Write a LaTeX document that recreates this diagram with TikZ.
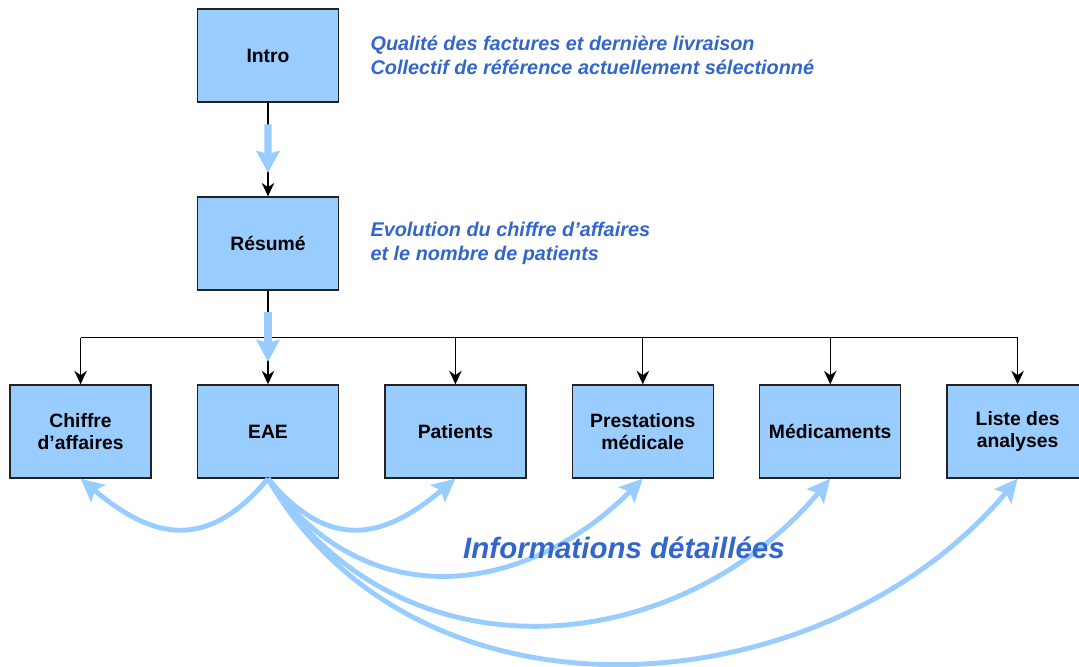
\documentclass[tikz,border=0pt]{standalone}
\usepackage{fontspec}
\setmainfont{Liberation Sans}
\usepackage{tikz}
\usetikzlibrary{arrows.meta,positioning,calc}
\definecolor{boxblue}{RGB}{153,204,255}
\definecolor{textblue}{RGB}{51,102,204}
\definecolor{boxline}{RGB}{34,34,34}
\tikzstyle{pagebox} = [rectangle, minimum width=2.82cm, minimum height=1.86cm, align=center, draw=boxline, fill=boxblue, line width=0.8pt, font=\fontsize{11}{12.5}\selectfont\bfseries]
\tikzstyle{note} = [align=left, text=textblue, inner sep=0pt, font=\fontsize{11.3}{13.6}\selectfont\bfseries\itshape]
\tikzstyle{link} = [line width=0.7pt, color=black]
\tikzstyle{arrow} = [link, -{Stealth[length=2.7mm,width=2.5mm]}]
\tikzstyle{flow} = [line width=4pt, color=boxblue, -{Stealth[length=4.4mm,width=4.6mm,inset=0.6mm]}]
\tikzstyle{info} = [line width=2.8pt, color=boxblue, -{Stealth[length=4.6mm,width=4.4mm,inset=0.9mm]}]

\begin{document}
\begin{tikzpicture}
\clip (0,0) rectangle (21.58,13.34);
% Pages
\node[pagebox] (eae) at (5.36,4.71) {EAE};
\node[pagebox, left=0.9cm of eae] (chiffre) {Chiffre\\d’affaires};
\node[pagebox, right=0.9cm of eae] (patients) {Patients};
\node[pagebox, right=0.9cm of patients] (prestations) {Prestations\\médicale};
\node[pagebox, right=0.9cm of prestations] (medicaments) {Médicaments};
\node[pagebox, right=0.9cm of medicaments] (liste) {Liste des\\analyses};
\node[pagebox, above=1.87cm of eae] (resume) {Résumé};
\node[pagebox, above=1.87cm of resume] (intro) {Intro};
% Notes
\node[note, right=0.62cm of intro] (introtxt) {Qualité des factures et dernière livraison\\Collectif de référence actuellement sélectionné};
\node[note, right=0.62cm of resume] (resumetxt) {Evolution du chiffre d’affaires\\et le nombre de patients};

% Tree
\coordinate (bus) at ($(resume.south)!0.5!(eae.north)$);
\draw[arrow] (intro) -- (resume);
\draw[link] (resume) -- (bus);
\draw[link] (chiffre |- bus) -- (liste |- bus);
\foreach \n in {chiffre,eae,patients,prestations,medicaments,liste}
  \draw[arrow] (\n |- bus) -- (\n);

% Blue flow
\draw[flow] ($(intro.south)!0.23!(resume.north)$) -- ($(intro.south)!0.75!(resume.north)$);
\draw[flow] ($(resume.south)!0.23!(eae.north)$) -- ($(resume.south)!0.76!(eae.north)$);

% Details
\draw[info] (eae.south) to[out=-130,in=-40,looseness=1.3] (chiffre.south);
\draw[info] (eae.south) to[out=-50,in=-140,looseness=1.3] (patients.south);
\draw[info] (eae.south) to[out=-55,in=-135,looseness=1.15] (prestations.south);
\draw[info] (eae.south) to[out=-58,in=-130,looseness=1.1] (medicaments.south);
\draw[info] (eae.south) to[out=-60,in=-130,looseness=1.03] (liste.south);
\node[note, font=\fontsize{16.8}{20}\selectfont\bfseries\itshape] (details) at (12.48,2.38) {Informations détaillées};
\end{tikzpicture}
\end{document}
